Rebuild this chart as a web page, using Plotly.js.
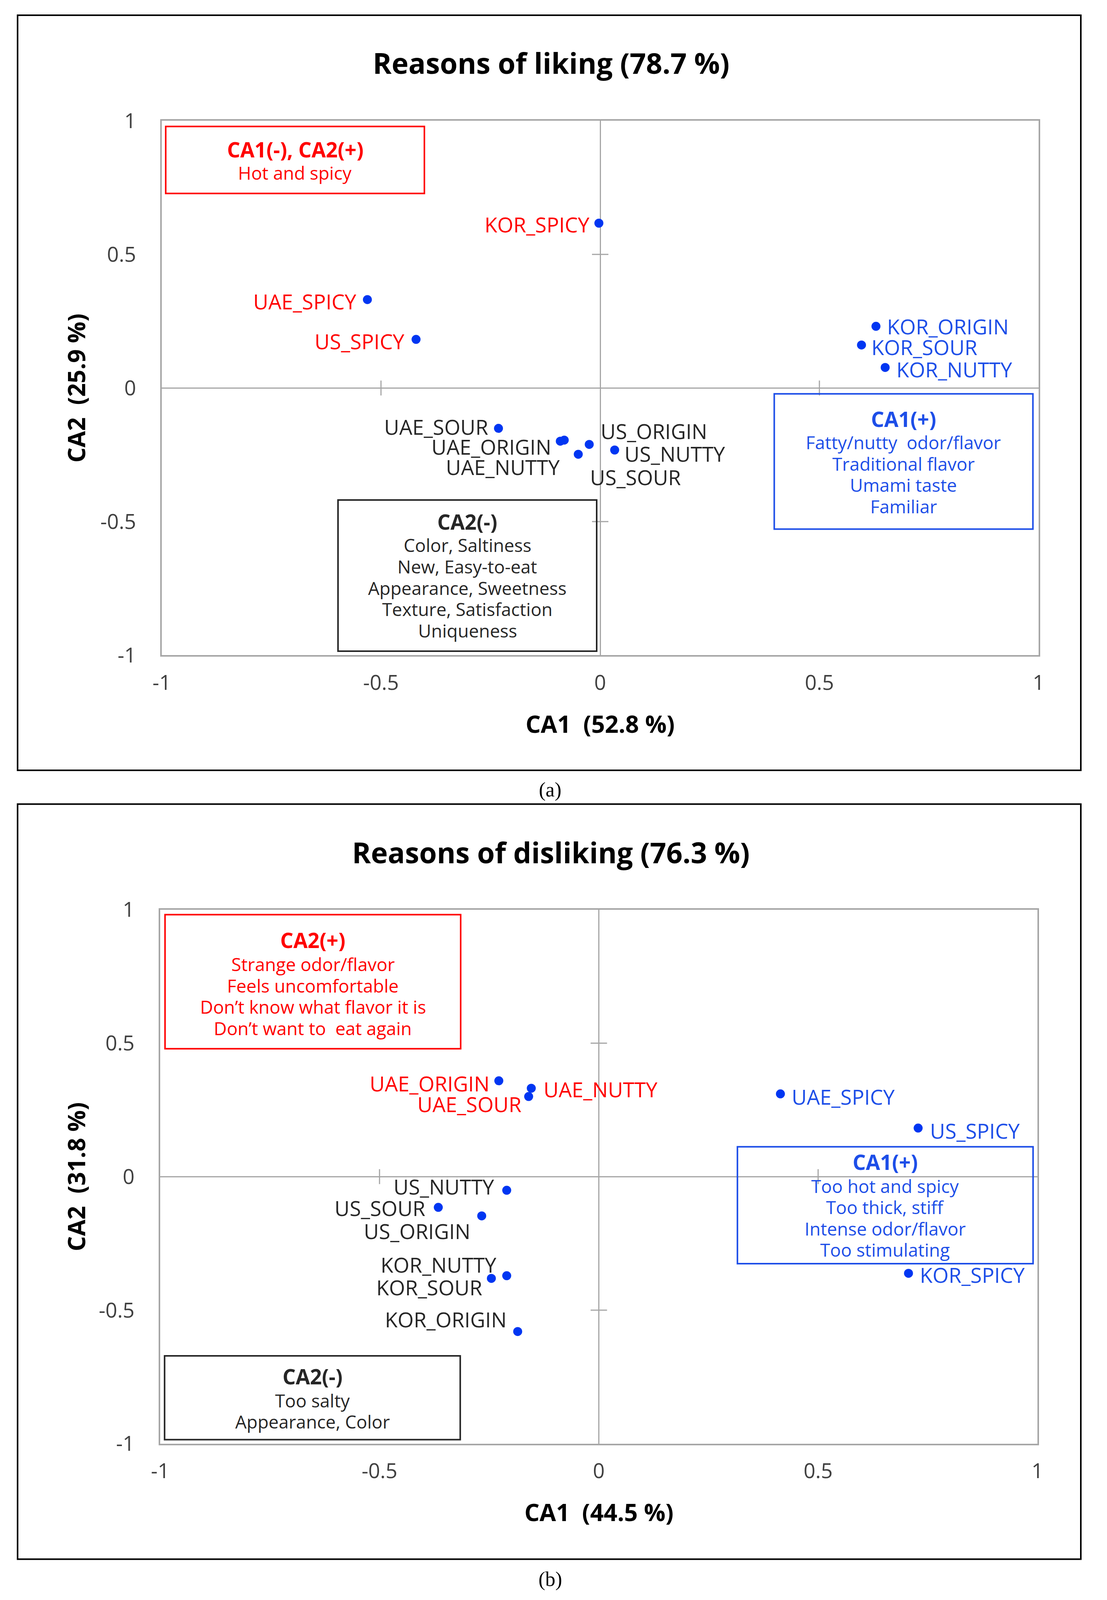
<!DOCTYPE html>
<html>
<head>
<meta charset="utf-8">
<script src="https://cdn.plot.ly/plotly-3.0.1.min.js"></script>
<style>
html,body{margin:0;padding:0;background:#ffffff;overflow:hidden;}
#chart{width:2833px;}
</style>
</head>
<body>
<div id="chart"></div>
<script>
// ---------------- DATA ----------------
const likingLabels = ['KOR_SPICY','UAE_SPICY','US_SPICY','KOR_ORIGIN','KOR_SOUR','KOR_NUTTY','UAE_SOUR','UAE_ORIGIN','UAE_NUTTY','US_ORIGIN','US_SOUR','US_NUTTY'];
const likingCA1 = [-0.003,-0.531,-0.420,0.629,0.596,0.650,-0.232,-0.091,-0.082,-0.025,-0.050,0.033];
const likingCA2 = [0.617,0.331,0.182,0.231,0.161,0.077,-0.151,-0.199,-0.195,-0.211,-0.248,-0.232];

const dislikingLabels = ['UAE_ORIGIN','UAE_NUTTY','UAE_SOUR','UAE_SPICY','US_SPICY','KOR_SPICY','US_NUTTY','US_SOUR','US_ORIGIN','KOR_NUTTY','KOR_SOUR','KOR_ORIGIN'];
const dislikingCA1 = [-0.228,-0.154,-0.160,0.414,0.728,0.706,-0.210,-0.366,-0.267,-0.210,-0.245,-0.185];
const dislikingCA2 = [0.359,0.331,0.300,0.310,0.182,-0.362,-0.051,-0.115,-0.147,-0.371,-0.381,-0.580];

const tickVals = [-1,-0.5,0,0.5,1];
const tickText = ['-1','-0.5','0','0.5','1'];

const chartTitles = ['Reasons of liking (78.7 %)','Reasons of disliking (76.3 %)'];
const xTitles = ['CA1 \u00a0(52.8 %)','CA1 \u00a0(44.5 %)'];
const yTitles = ['CA2 \u00a0(25.9 %)','CA2 \u00a0(31.8 %)'];
const panelTags = ['(a)','(b)'];

const likingBoxTitles = ['CA1(-), CA2(+)','CA2(-)','CA1(+)'];
const likingBoxLines = [
  ['Hot and spicy'],
  ['Color, Saltiness','New, Easy-to-eat','Appearance, Sweetness','Texture, Satisfaction','Uniqueness'],
  ['Fatty/nutty \u00a0odor/flavor','Traditional flavor','Umami taste','Familiar']
];
const dislikingBoxTitles = ['CA2(+)','CA1(+)','CA2(-)'];
const dislikingBoxLines = [
  ['Strange odor/flavor','Feels uncomfortable','Don\u2019t know what flavor it is','Don\u2019t want to \u00a0eat again'],
  ['Too hot and spicy','Too thick, stiff','Intense odor/flavor','Too stimulating'],
  ['Too salty','Appearance, Color']
];

// ---------------- STYLE / LAYOUT CONFIG ----------------
const W = 2833, REF_H = 4503;
const H = Math.min(REF_H, window.innerHeight || REF_H);   // fit the whole figure into the visible window
const SY = H / REF_H;                                      // vertical scale of the reference layout
const FS = 0.5 + 0.5 * SY;                                 // font scale
const f = s => Math.round(s * FS);
document.getElementById('chart').style.height = H + 'px';

const FONT = 'Open Sans, Noto Sans, DejaVu Sans, sans-serif';
const GRAY = '#a6a6a6';
const COLORS = {red:'#ff0000', blue:'#1d4ee8', dark:'#262626'};
const DOT = '#0036f2';

// label placement: [colour group, anchor, xshift px, yshift px (reference scale)]
const likingLabelStyle = {
  KOR_SPICY:['red','right',-22,-4], UAE_SPICY:['red','right',-26,-5], US_SPICY:['red','right',-28,-5],
  KOR_ORIGIN:['blue','left',26,0], KOR_SOUR:['blue','left',23,-6], KOR_NUTTY:['blue','left',27,-5],
  UAE_SOUR:['dark','right',-25,5], UAE_ORIGIN:['dark','right',-21,-15], UAE_NUTTY:['dark','right',-9,-76],
  US_ORIGIN:['dark','left',27,37], US_SOUR:['dark','left',28,-64], US_NUTTY:['dark','left',23,-10]
};
const dislikingLabelStyle = {
  UAE_ORIGIN:['red','right',-22,-7], UAE_NUTTY:['red','left',29,-3], UAE_SOUR:['red','right',-17,-21],
  UAE_SPICY:['blue','left',27,-8], US_SPICY:['blue','left',28,-7], KOR_SPICY:['blue','left',27,-4],
  US_NUTTY:['dark','right',-30,10], US_SOUR:['dark','right',-31,-2], US_ORIGIN:['dark','right',-27,-43],
  KOR_NUTTY:['dark','right',-24,31], KOR_SOUR:['dark','right',-21,-25], KOR_ORIGIN:['dark','right',-26,34]
};

// box frames (in axis units) and text offsets (px from box top, reference scale)
const likingBoxGeom = [
  {x0:-0.991,x1:-0.401,y0:0.728,y1:0.979,color:'red',titleOff:65,lineOff:130},
  {x0:-0.598,x1:-0.008,y0:-0.985,y1:-0.419,color:'dark',titleOff:61,lineOff:127},
  {x0:0.397,x1:0.987,y0:-0.528,y1:-0.022,color:'blue',titleOff:71,lineOff:136}
];
const dislikingBoxGeom = [
  {x0:-0.989,x1:-0.315,y0:0.479,y1:0.981,color:'red',titleOff:71,lineOff:139},
  {x0:0.316,x1:0.990,y0:-0.326,y1:0.112,color:'blue',titleOff:43,lineOff:110},
  {x0:-0.990,x1:-0.316,y0:-0.985,y1:-0.671,color:'dark',titleOff:58,lineOff:125}
];
const LINE_STEP = 60;

// pixel geometry of the two panels (reference pixels)
const panels = [
  {xl:414, xr:2658, yt:340, yb:1844, title:176, xt:2037, frameT:43, frameB:2168, tag:2223},
  {xl:410, xr:2655, yt:2560, yb:4063, title:2398, xt:4255, frameT:2263, frameB:4388, tag:4445}
];
const frameL = 45, frameR = 2766, yTitleX = 194;

const px = x => x / W;
const py = y => 1 - y / REF_H;

function makeAxisX(p, anchor){
  return {
    domain:[px(p.xl), px(p.xr)], anchor:anchor, range:[-1,1],
    tickvals:tickVals, ticktext:tickText, ticks:'outside', ticklen:Math.round(84*SY - 56*FS - 2), tickcolor:'rgba(0,0,0,0)',
    showgrid:false, zeroline:true, zerolinecolor:GRAY, zerolinewidth:3,
    showline:true, mirror:true, linecolor:GRAY, linewidth:4,
    tickfont:{family:FONT, size:f(56), color:'#404040'}, fixedrange:true
  };
}
function makeAxisY(p, anchor){
  return {
    domain:[py(p.yb), py(p.yt)], anchor:anchor, range:[-1,1],
    tickvals:tickVals, ticktext:tickText, ticks:'outside', ticklen:51, tickcolor:'rgba(0,0,0,0)',
    showgrid:false, zeroline:true, zerolinecolor:GRAY, zerolinewidth:3,
    showline:true, mirror:true, linecolor:GRAY, linewidth:4,
    tickfont:{family:FONT, size:f(56), color:'#404040'}, fixedrange:true
  };
}

const annotations = [];
const shapes = [];

function addPanel(idx, xr, yr, labels, xs, ys, styleMap, boxGeom, boxTitles, boxLines){
  const p = panels[idx];
  labels.forEach((lab, i) => {
    const s = styleMap[lab];
    annotations.push({
      xref:xr, yref:yr, x:xs[i], y:ys[i], text:lab, showarrow:false,
      xanchor:s[1], yanchor:'middle', xshift:s[2], yshift:s[3]*SY,
      font:{family:FONT, size:f(56), color:COLORS[s[0]]}
    });
  });
  boxGeom.forEach((b, j) => {
    const col = COLORS[b.color];
    shapes.push({type:'rect', xref:xr, yref:yr, x0:b.x0, x1:b.x1, y0:b.y0, y1:b.y1,
      line:{color:col, width:4}, fillcolor:'rgba(0,0,0,0)', layer:'above'});
    const cx = (b.x0 + b.x1) / 2;
    annotations.push({xref:xr, yref:yr, x:cx, y:b.y1, yshift:-b.titleOff*SY, text:'<b>'+boxTitles[j]+'</b>',
      showarrow:false, xanchor:'center', yanchor:'middle', font:{family:FONT, size:f(56), color:col}});
    boxLines[j].forEach((ln, k) => {
      annotations.push({xref:xr, yref:yr, x:cx, y:b.y1, yshift:-(b.lineOff + k*LINE_STEP)*SY, text:ln,
        showarrow:false, xanchor:'center', yanchor:'middle', font:{family:FONT, size:f(48), color:col}});
    });
  });
  [-0.5, 0.5].forEach(v => {
    shapes.push({type:'line', xref:xr, yref:yr, x0:v, x1:v, ysizemode:'pixel', yanchor:0, y0:-21*SY, y1:21*SY,
      line:{color:GRAY, width:3}, layer:'below'});
    shapes.push({type:'line', xref:xr, yref:yr, y0:v, y1:v, xsizemode:'pixel', xanchor:0, x0:-21, x1:21,
      line:{color:GRAY, width:3}, layer:'below'});
  });
  annotations.push({xref:'paper', yref:'paper', x:px(1410), y:py(p.title), text:'<b>'+chartTitles[idx]+'</b>',
    showarrow:false, xanchor:'center', yanchor:'middle', font:{family:FONT, size:f(76), color:'#000000'}});
  annotations.push({xref:'paper', yref:'paper', x:px((p.xl+p.xr)/2), y:py(p.xt), text:'<b>'+xTitles[idx]+'</b>',
    showarrow:false, xanchor:'center', yanchor:'middle', font:{family:FONT, size:f(64), color:'#000000'}});
  annotations.push({xref:'paper', yref:'paper', x:px(yTitleX), y:py((p.yt+p.yb)/2), text:'<b>'+yTitles[idx]+'</b>',
    showarrow:false, xanchor:'center', yanchor:'middle', textangle:-90, font:{family:FONT, size:f(64), color:'#000000'}});
  annotations.push({xref:'paper', yref:'paper', x:px(1408), y:py(p.tag), text:panelTags[idx],
    showarrow:false, xanchor:'center', yanchor:'middle', font:{family:'Liberation Serif, DejaVu Serif, serif', size:f(54), color:'#000000'}});
  shapes.push({type:'rect', xref:'paper', yref:'paper', x0:px(frameL), x1:px(frameR), y0:py(p.frameB), y1:py(p.frameT),
    line:{color:'#000000', width:4}, fillcolor:'rgba(0,0,0,0)'});
}

addPanel(0, 'x', 'y', likingLabels, likingCA1, likingCA2, likingLabelStyle, likingBoxGeom, likingBoxTitles, likingBoxLines);
addPanel(1, 'x2', 'y2', dislikingLabels, dislikingCA1, dislikingCA2, dislikingLabelStyle, dislikingBoxGeom, dislikingBoxTitles, dislikingBoxLines);

const traces = [
  {type:'scatter', mode:'markers', x:likingCA1, y:likingCA2, text:likingLabels, xaxis:'x', yaxis:'y',
   marker:{color:DOT, size:23}, hoverinfo:'text', showlegend:false, cliponaxis:false},
  {type:'scatter', mode:'markers', x:dislikingCA1, y:dislikingCA2, text:dislikingLabels, xaxis:'x2', yaxis:'y2',
   marker:{color:DOT, size:23}, hoverinfo:'text', showlegend:false, cliponaxis:false}
];

const layout = {
  width:W, height:H, margin:{l:0, r:0, t:0, b:0}, autosize:false,
  paper_bgcolor:'#ffffff', plot_bgcolor:'#ffffff', showlegend:false,
  font:{family:FONT, color:'#262626'},
  xaxis:makeAxisX(panels[0], 'y'), yaxis:makeAxisY(panels[0], 'x'),
  xaxis2:makeAxisX(panels[1], 'y2'), yaxis2:makeAxisY(panels[1], 'x2'),
  annotations:annotations, shapes:shapes
};

Plotly.newPlot('chart', traces, layout, {displayModeBar:false, staticPlot:true});
</script>
</body>
</html>
